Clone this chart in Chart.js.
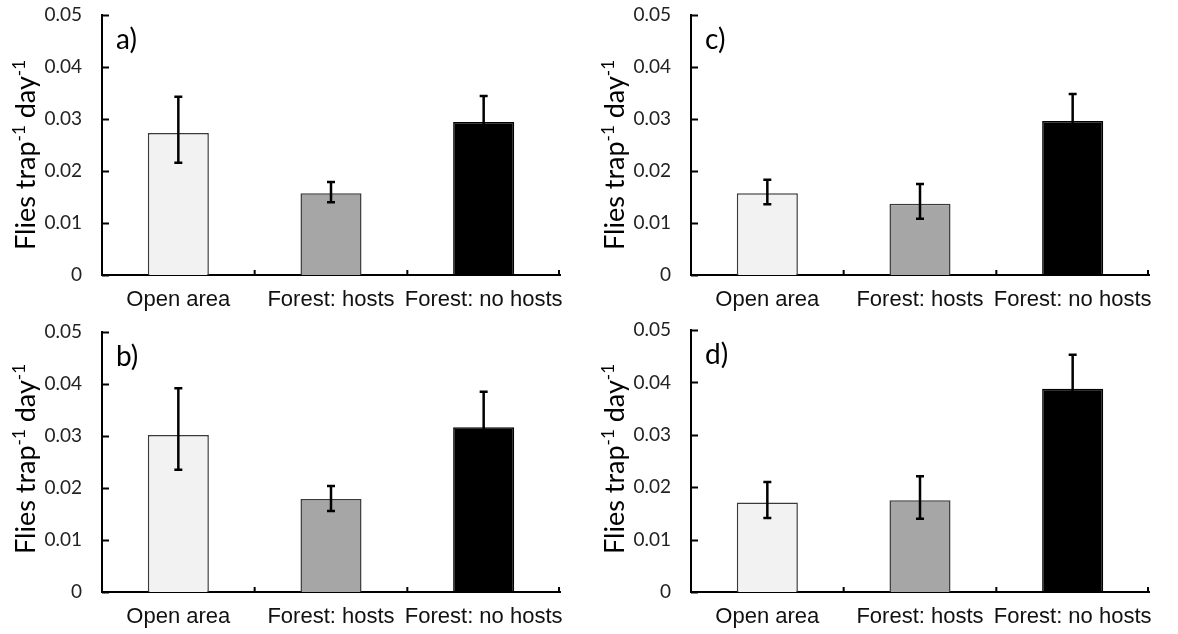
<!DOCTYPE html>
<html lang="en">
<head>
    <meta charset="UTF-8">
    <title>Flies per trap per day</title>
    <script src="https://cdn.jsdelivr.net/npm/chart.js@4.4.1/dist/chart.umd.min.js"></script>
    <style>
        body { margin: 0; background: #fff; }
        #wrap { position: relative; width: 1178px; height: 634px; }
        canvas { position: absolute; }
    </style>
</head>
<body>
<div id="wrap">
    <canvas id="panelA" width="589" height="317" style="left:0;top:0"></canvas>
    <canvas id="panelC" width="589" height="317" style="left:589px;top:0"></canvas>
    <canvas id="panelB" width="589" height="317" style="left:0;top:317px"></canvas>
    <canvas id="panelD" width="589" height="317" style="left:589px;top:317px"></canvas>
</div>
<script>
    // data
    const categories = ['Open area', 'Forest: hosts', 'Forest: no hosts'];
    const yTicks = [0, 0.01, 0.02, 0.03, 0.04, 0.05];

    const meanA = [0.0273, 0.0157, 0.0294];
    const upperA = [0.0343, 0.0179, 0.0344];
    const lowerA = [0.0216, 0.0140, 0.0244];

    const meanB = [0.0302, 0.0179, 0.0317];
    const upperB = [0.0392, 0.0204, 0.0385];
    const lowerB = [0.0235, 0.0156, 0.0249];

    const meanC = [0.0157, 0.0137, 0.0296];
    const upperC = [0.0183, 0.0175, 0.0348];
    const lowerC = [0.0136, 0.0108, 0.0244];

    const meanD = [0.0171, 0.0175, 0.0388];
    const upperD = [0.0210, 0.0221, 0.0453];
    const lowerD = [0.0141, 0.0140, 0.0323];

    const barColors = ['#f2f2f2', '#a6a6a6', '#000000'];
    const barBorders = ['#3a3a3a', '#3a3a3a', '#000000'];

    // error bars, inward ticks, axis title with superscripts, panel letter
    const panelPlugin = {
        id: 'panelExtras',
        afterDatasetsDraw(chart) {
            const ctx = chart.ctx;
            const y = chart.scales.y;
            const ext = chart.options.plugins.panelExtras;
            const meta = chart.getDatasetMeta(0);
            ctx.save();
            ctx.strokeStyle = '#000';
            ctx.lineWidth = 2.5;
            meta.data.forEach((bar, i) => {
                const top = y.getPixelForValue(ext.upper[i]);
                const bot = y.getPixelForValue(ext.lower[i]);
                ctx.beginPath();
                ctx.moveTo(bar.x, top);
                ctx.lineTo(bar.x, bot);
                ctx.moveTo(bar.x - 4, top);
                ctx.lineTo(bar.x + 4, top);
                ctx.moveTo(bar.x - 4, bot);
                ctx.lineTo(bar.x + 4, bot);
                ctx.stroke();
            });
            ctx.restore();
        },
        afterDraw(chart) {
            const ctx = chart.ctx;
            const area = chart.chartArea;
            const x = chart.scales.x;
            const y = chart.scales.y;
            const ext = chart.options.plugins.panelExtras;
            ctx.save();
            ctx.strokeStyle = '#000';
            ctx.lineWidth = 2;
            ctx.beginPath();
            yTicks.forEach(v => {
                const py = Math.round(y.getPixelForValue(v)) + 0.5;
                ctx.moveTo(area.left, py);
                ctx.lineTo(area.left + 7, py);
            });
            for (let i = 0; i < categories.length - 1; i++) {
                const px = (x.getPixelForValue(i) + x.getPixelForValue(i + 1)) / 2;
                ctx.moveTo(px, area.bottom);
                ctx.lineTo(px, area.bottom - 5);
            }
            ctx.moveTo(area.right - 1, area.bottom);
            ctx.lineTo(area.right - 1, area.bottom - 5);
            ctx.stroke();

            // panel letter
            ctx.fillStyle = '#000';
            ctx.font = '28px Lato';
            ctx.textBaseline = 'alphabetic';
            ctx.textAlign = 'left';
            ctx.fillText(ext.letter, area.left + 14, area.top + 34);

            // y axis title: Flies trap^-1 day^-1
            const parts = [
                ['Flies trap', false], ['-1', true], [' day', false], ['-1', true]
            ];
            const big = '27px Lato', small = '17px Lato';
            let total = 0;
            parts.forEach(p => {
                ctx.font = p[1] ? small : big;
                total += ctx.measureText(p[0]).width;
            });
            ctx.translate(35, ext.titleCenter);
            ctx.rotate(-Math.PI / 2);
            let cx = -total / 2;
            parts.forEach(p => {
                ctx.font = p[1] ? small : big;
                ctx.fillText(p[0], cx, p[1] ? -10 : 0);
                cx += ctx.measureText(p[0]).width;
            });
            ctx.restore();
        }
    };

    function makePanel(id, letter, means, upper, lower, titleCenter, padTop) {
        new Chart(document.getElementById(id), {
            type: 'bar',
            data: {
                labels: categories,
                datasets: [{
                    data: means,
                    backgroundColor: barColors,
                    borderColor: barBorders,
                    borderWidth: 1.5,
                    categoryPercentage: 1,
                    barPercentage: 0.4
                }]
            },
            options: {
                responsive: false,
                animation: false,
                events: [],
                layout: { padding: { top: padTop, right: 29, left: 0, bottom: 0 } },
                plugins: {
                    legend: { display: false },
                    tooltip: { enabled: false },
                    panelExtras: { letter: letter, upper: upper, lower: lower, titleCenter: titleCenter }
                },
                scales: {
                    x: {
                        grid: { display: false, drawTicks: false },
                        border: { display: true, color: '#000', width: 2 },
                        ticks: {
                            color: '#111',
                            font: { family: 'Liberation Sans', size: 22 },
                            padding: 12,
                            maxRotation: 0,
                            autoSkip: false
                        },
                        afterFit(scale) {
                            scale.height = 42;
                            scale.paddingLeft = 0;
                            scale.paddingRight = 0;
                        }
                    },
                    y: {
                        min: 0,
                        max: 0.05,
                        grid: { display: false, drawTicks: false },
                        border: { display: true, color: '#000', width: 2 },
                        afterBuildTicks(scale) {
                            scale.ticks = yTicks.map(v => ({ value: v }));
                        },
                        ticks: {
                            color: '#222',
                            font: { family: 'Lato', size: 19 },
                            padding: 20,
                            callback: v => v === 0 ? '0' : v.toFixed(2)
                        },
                        afterFit(scale) {
                            scale.width = 102;
                            scale.paddingTop = 0;
                            scale.paddingBottom = 0;
                        }
                    }
                }
            },
            plugins: [panelPlugin]
        });
    }

    makePanel('panelA', 'a)', meanA, upperA, lowerA, 155, 15);
    makePanel('panelC', 'c)', meanC, upperC, lowerC, 155, 15);
    makePanel('panelB', 'b)', meanB, upperB, lowerB, 142, 15);
    makePanel('panelD', 'd)', meanD, upperD, lowerD, 142, 13);
</script>
</body>
</html>
